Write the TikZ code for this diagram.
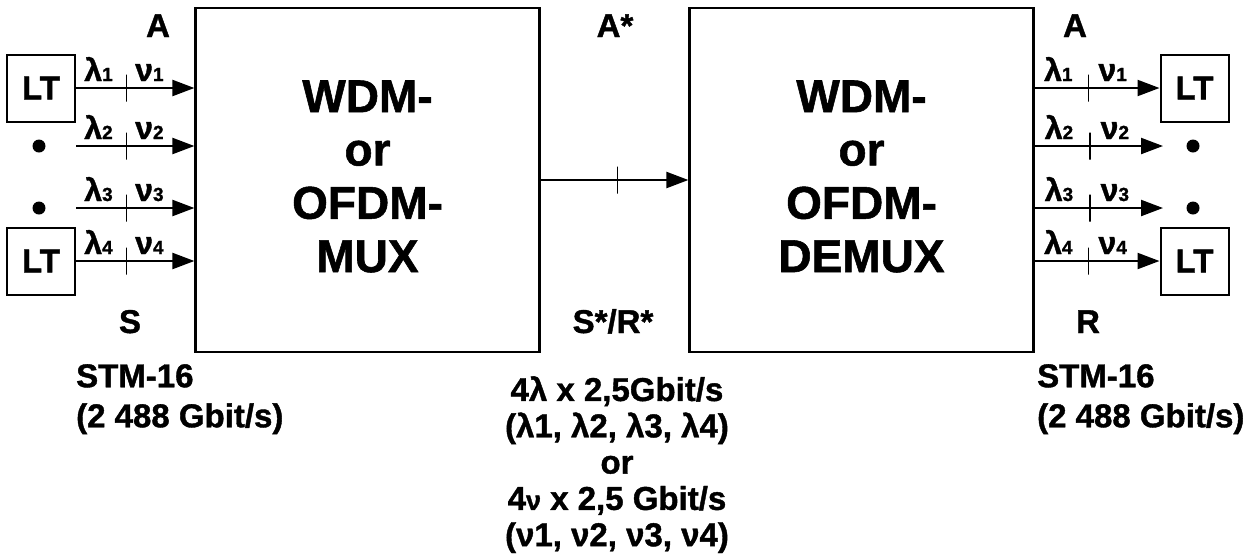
\documentclass[tikz,border=0pt]{standalone}
\usepackage{fontspec}
\setmainfont{Liberation Sans}[BoldFeatures={FakeBold=1.2}]
\usetikzlibrary{arrows.meta}
\newcommand{\gsub}[2]{{\fontsize{32}{32}\selectfont #1}{\fontsize{19}{19}\selectfont #2}}
\begin{document}
\begin{tikzpicture}[x=1pt,y=-1pt,
  blk/.style={draw, line width=2.2pt, minimum width=344pt, minimum height=344pt, inner sep=0pt},
  blktext/.style={font=\fontsize{46}{53.3}\selectfont\bfseries, align=center, inner sep=0pt},
  ltbox/.style={draw, line width=2pt, minimum width=68pt, minimum height=67pt, inner sep=0pt, font=\fontsize{33}{33}\selectfont\bfseries},
  sig/.style={line width=2.2pt, -{Triangle[length=22pt,width=16pt]}},
  tickmark/.style={draw, line width=1.6pt, minimum width=0pt, minimum height=27pt, inner sep=0pt, shape=rectangle},
  lab/.style={font=\bfseries, anchor=base, inner sep=0pt, yshift=7pt},
  ref/.style={font=\fontsize{33}{33}\selectfont\bfseries, anchor=base, inner sep=0pt},
  note/.style={font=\fontsize{33}{40}\selectfont\bfseries, inner sep=0pt},
  dotn/.style={circle, fill, minimum size=13pt, inner sep=0pt}
]
\useasboundingbox (0,0) rectangle (1253,558);

% main blocks
\node[blk] (mux) at (367.5,180) {};
\node[blk] (demux) at (861.5,180) {};
\node[blktext] (muxt) at (367.5,176.5) {WDM-\\or\\OFDM-\\MUX};
\node[blktext] (demuxt) at (861.5,176.5) {WDM-\\or\\OFDM-\\DEMUX};

% left side
\node[ltbox] (lt1) at (41,88) {LT};
\node[ltbox] (lt4) at (41,261) {LT};
\node[dotn] (ld2) at (39,146) {};
\node[dotn] (ld3) at (39,208) {};
\coordinate (ls2) at (76,146);
\coordinate (ls3) at (76,208);

\draw[sig] (lt1.east) -- node[pos=.19,lab]{\gsub{λ}{1}} node[pos=.425,tickmark]{} node[pos=.62,lab]{\gsub{ν}{1}} (lt1.east -| mux.west);
\draw[sig] (ls2) -- node[pos=.19,lab]{\gsub{λ}{2}} node[pos=.425,tickmark]{} node[pos=.62,lab]{\gsub{ν}{2}} (ls2 -| mux.west);
\draw[sig] (ls3) -- node[pos=.19,lab]{\gsub{λ}{3}} node[pos=.425,tickmark]{} node[pos=.62,lab]{\gsub{ν}{3}} (ls3 -| mux.west);
\draw[sig] (lt4.east) -- node[pos=.19,lab]{\gsub{λ}{4}} node[pos=.425,tickmark]{} node[pos=.62,lab]{\gsub{ν}{4}} (lt4.east -| mux.west);

% middle link
\draw[sig] (mux.east) -- node[pos=.52,tickmark]{} (demux.west);

% right side
\node[ltbox] (rt1) at (1194.5,88) {LT};
\node[ltbox] (rt4) at (1194.5,261) {LT};
\node[dotn] (rd2) at (1193,146) {};
\node[dotn] (rd3) at (1193,208) {};
\coordinate (re2) at (1163,146);
\coordinate (re3) at (1163,208);

\draw[sig] (rt1.west -| demux.east) -- node[pos=.19,lab]{\gsub{λ}{1}} node[pos=.43,tickmark]{} node[pos=.625,lab]{\gsub{ν}{1}} (rt1.west);
\draw[sig] (re2 -| demux.east) -- node[pos=.19,lab]{\gsub{λ}{2}} node[pos=.43,tickmark]{} node[pos=.625,lab]{\gsub{ν}{2}} (re2);
\draw[sig] (re3 -| demux.east) -- node[pos=.19,lab]{\gsub{λ}{3}} node[pos=.43,tickmark]{} node[pos=.625,lab]{\gsub{ν}{3}} (re3);
\draw[sig] (rt4.west -| demux.east) -- node[pos=.19,lab]{\gsub{λ}{4}} node[pos=.43,tickmark]{} node[pos=.625,lab]{\gsub{ν}{4}} (rt4.west);

% reference point labels
\node[ref] (pA1) at (158,37) {A};
\node[ref] (pA2) at (615,37) {A*};
\node[ref] (pA3) at (1075,37) {A};
\node[ref] (pS) at (130,333) {S};
\node[ref] (pSR) at (613,333) {S*/R*};
\node[ref] (pR) at (1088,333) {R};

% notes
\node[note, anchor=north west, align=left] (nl) at (76,364) {STM-16\\(2 488 Gbit/s)};
\node[note, anchor=north west, align=left] (nr) at (1037,364) {STM-16\\(2 488 Gbit/s)};
\node[font=\fontsize{33}{36.3}\selectfont\bfseries, inner sep=0pt, anchor=north, align=center] (nm) at (617,376)
  {4λ x 2,5Gbit/s\\(λ1, λ2, λ3, λ4)\\or\\4{\fontsize{27}{27}\selectfont ν} x 2,5 Gbit/s\\(ν1, ν2, ν3, ν4)};
\end{tikzpicture}
\end{document}
